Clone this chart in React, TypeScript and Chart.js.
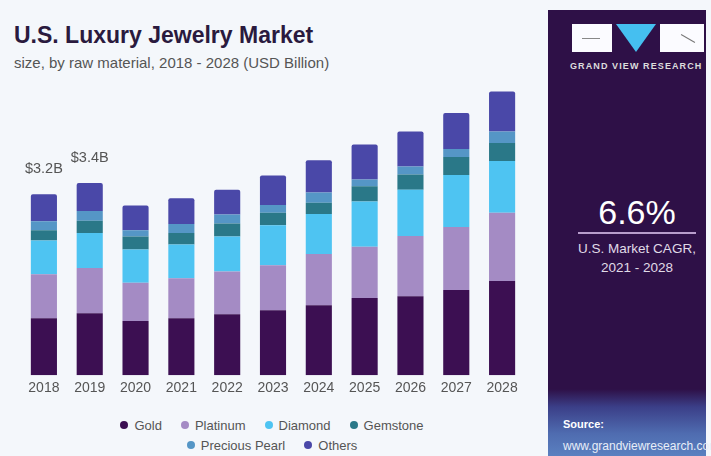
import React, { useEffect, useRef } from "react";
import { Chart, registerables } from "chart.js";

Chart.register(...registerables);

const years = ["2018", "2019", "2020", "2021", "2022", "2023", "2024", "2025", "2026", "2027", "2028"];
const gold = [1.01, 1.1, 0.96, 1.01, 1.08, 1.15, 1.24, 1.37, 1.4, 1.51, 1.67];
const platinum = [0.78, 0.8, 0.68, 0.71, 0.76, 0.8, 0.91, 0.91, 1.07, 1.12, 1.21];
const diamond = [0.6, 0.62, 0.59, 0.6, 0.62, 0.71, 0.71, 0.8, 0.82, 0.92, 0.92];
const gemstone = [0.18, 0.22, 0.23, 0.2, 0.23, 0.22, 0.2, 0.27, 0.27, 0.32, 0.32];
const preciousPearl = [0.16, 0.17, 0.11, 0.16, 0.16, 0.14, 0.18, 0.12, 0.14, 0.14, 0.2];
const others = [0.48, 0.5, 0.44, 0.46, 0.44, 0.52, 0.57, 0.62, 0.62, 0.64, 0.71];
const topLabels = ["$3.2B", "$3.4B", "", "", "", "", "", "", "", "", ""];

const seriesNames = ["Gold", "Platinum", "Diamond", "Gemstone", "Precious Pearl", "Others"];
const seriesColors = ["#3c0f52", "#a48bc4", "#4ec4f2", "#2a7888", "#5596c6", "#4a48a8"];
const seriesValues = [gold, platinum, diamond, gemstone, preciousPearl, others];

const FONT = '"Liberation Sans", Arial, sans-serif';

const topLabelPlugin = {
  id: "topLabels",
  afterDatasetsDraw(chart: any) {
    const { ctx, scales } = chart;
    ctx.save();
    ctx.font = `14.5px ${FONT}`;
    ctx.fillStyle = "#555";
    ctx.textAlign = "center";
    ctx.textBaseline = "middle";
    topLabels.forEach((lab, i) => {
      if (!lab) return;
      const total = seriesValues.reduce((s, arr) => s + arr[i], 0);
      const x = scales.x.getPixelForValue(i);
      const y = scales.y.getPixelForValue(total);
      ctx.fillText(lab, x, y - 25);
    });
    ctx.restore();
  },
};

function App() {
  const ref = useRef<HTMLCanvasElement>(null);
  useEffect(() => {
    if (!ref.current) return;
    const chart = new Chart(ref.current, {
      type: "bar",
      data: {
        labels: years,
        datasets: seriesNames.map((name, k) => ({
          label: name,
          data: seriesValues[k],
          backgroundColor: seriesColors[k],
          borderWidth: 0,
          barPercentage: 0.57,
          categoryPercentage: 1,
          borderRadius: k === 5 ? { topLeft: 2, topRight: 2, bottomLeft: 0, bottomRight: 0 } : 0,
          borderSkipped: false,
        })),
      },
      options: {
        animation: false,
        responsive: true,
        maintainAspectRatio: false,
        layout: { padding: { left: 21, right: 15, top: 2, bottom: 5 } },
        plugins: { legend: { display: false }, tooltip: { enabled: false } },
        scales: {
          x: {
            stacked: true,
            grid: { display: false, drawTicks: false },
            border: { display: false },
            ticks: { color: "#555", font: { family: FONT, size: 14 }, padding: 5 },
          },
          y: { stacked: true, display: false, min: 0, max: 5.2 },
        },
      },
      plugins: [topLabelPlugin],
    });
    return () => chart.destroy();
  }, []);

  return (
    <div style={{ position: "fixed", left: 0, top: 0, width: 711, height: 456, background: "#f4f7fb", overflow: "hidden", fontFamily: FONT }}>
      <div style={{ position: "absolute", left: 14, top: 22, fontSize: 23, lineHeight: "27px", fontWeight: "bold", color: "#2a1a3e", whiteSpace: "nowrap" }}>
        U.S. Luxury Jewelry Market
      </div>
      <div style={{ position: "absolute", left: 14, top: 54, fontSize: 15, lineHeight: "17px", color: "#555", whiteSpace: "nowrap" }}>
        size, by raw material, 2018 - 2028 (USD Billion)
      </div>
      <div style={{ position: "absolute", left: 0, top: 80, width: 540, height: 327 }}>
        <canvas ref={ref} />
      </div>
      <div style={{ position: "absolute", left: 0, top: 415, width: 540, fontSize: 13, color: "#555" }}>
        {[seriesNames.slice(0, 4), seriesNames.slice(4)].map((row, r) => (
          <div key={r} style={{ display: "flex", justifyContent: "center", gap: 19, height: 20, alignItems: "center", paddingLeft: 4 }}>
            {row.map((name) => {
              const k = seriesNames.indexOf(name);
              return (
                <div key={name} style={{ display: "flex", alignItems: "center", gap: 6 }}>
                  <span style={{ width: 8, height: 8, borderRadius: "50%", background: seriesColors[k], display: "inline-block" }} />
                  <span>{name}</span>
                </div>
              );
            })}
          </div>
        ))}
      </div>
      <div style={{ position: "absolute", left: 548, top: 10, width: 158, height: 446, background: "linear-gradient(to bottom, #2e1047 0%, #2e1047 85%, #3b3f88 89%, #4f6cb0 95%, #5a80c0 100%)" }}>
        <div style={{ position: "absolute", left: 24, top: 14, width: 40, height: 28, background: "#fbfbff" }}>
          <div style={{ position: "absolute", left: 10, top: 14, width: 18, height: 1, background: "#888" }} />
        </div>
        <div style={{ position: "absolute", left: 68, top: 14, width: 0, height: 0, borderLeft: "20px solid transparent", borderRight: "20px solid transparent", borderTop: "28px solid #45bff0" }} />
        <div style={{ position: "absolute", left: 112, top: 14, width: 44, height: 28, background: "#fbfbff" }}>
          <div style={{ position: "absolute", left: 20, top: 14, width: 16, height: 1, background: "#777", transform: "rotate(30deg)" }} />
        </div>
        <div style={{ position: "absolute", left: 22, top: 51, width: 140, fontSize: 9, fontWeight: "bold", color: "#ddd", letterSpacing: 1.1, whiteSpace: "nowrap" }}>
          GRAND VIEW RESEARCH
        </div>
        <div style={{ position: "absolute", left: 10, width: 158, top: 183, textAlign: "center", fontSize: 34, color: "#fff" }}>
          6.6%
        </div>
        <div style={{ position: "absolute", left: 30, top: 222, width: 118, height: 2, background: "#b89dcc" }} />
        <div style={{ position: "absolute", left: 0, width: 178, top: 229, textAlign: "center", fontSize: 13.5, color: "#e0dbe8", lineHeight: "19px" }}>
          U.S. Market CAGR,<br />2021 - 2028
        </div>
        <div style={{ position: "absolute", left: 15, top: 408, fontSize: 11, fontWeight: "bold", color: "#fff" }}>Source:</div>
        <div style={{ position: "absolute", left: 15, top: 429, fontSize: 12, color: "#e8eef8", whiteSpace: "nowrap" }}>www.grandviewresearch.com</div>
      </div>
    </div>
  );
}

export default App;
